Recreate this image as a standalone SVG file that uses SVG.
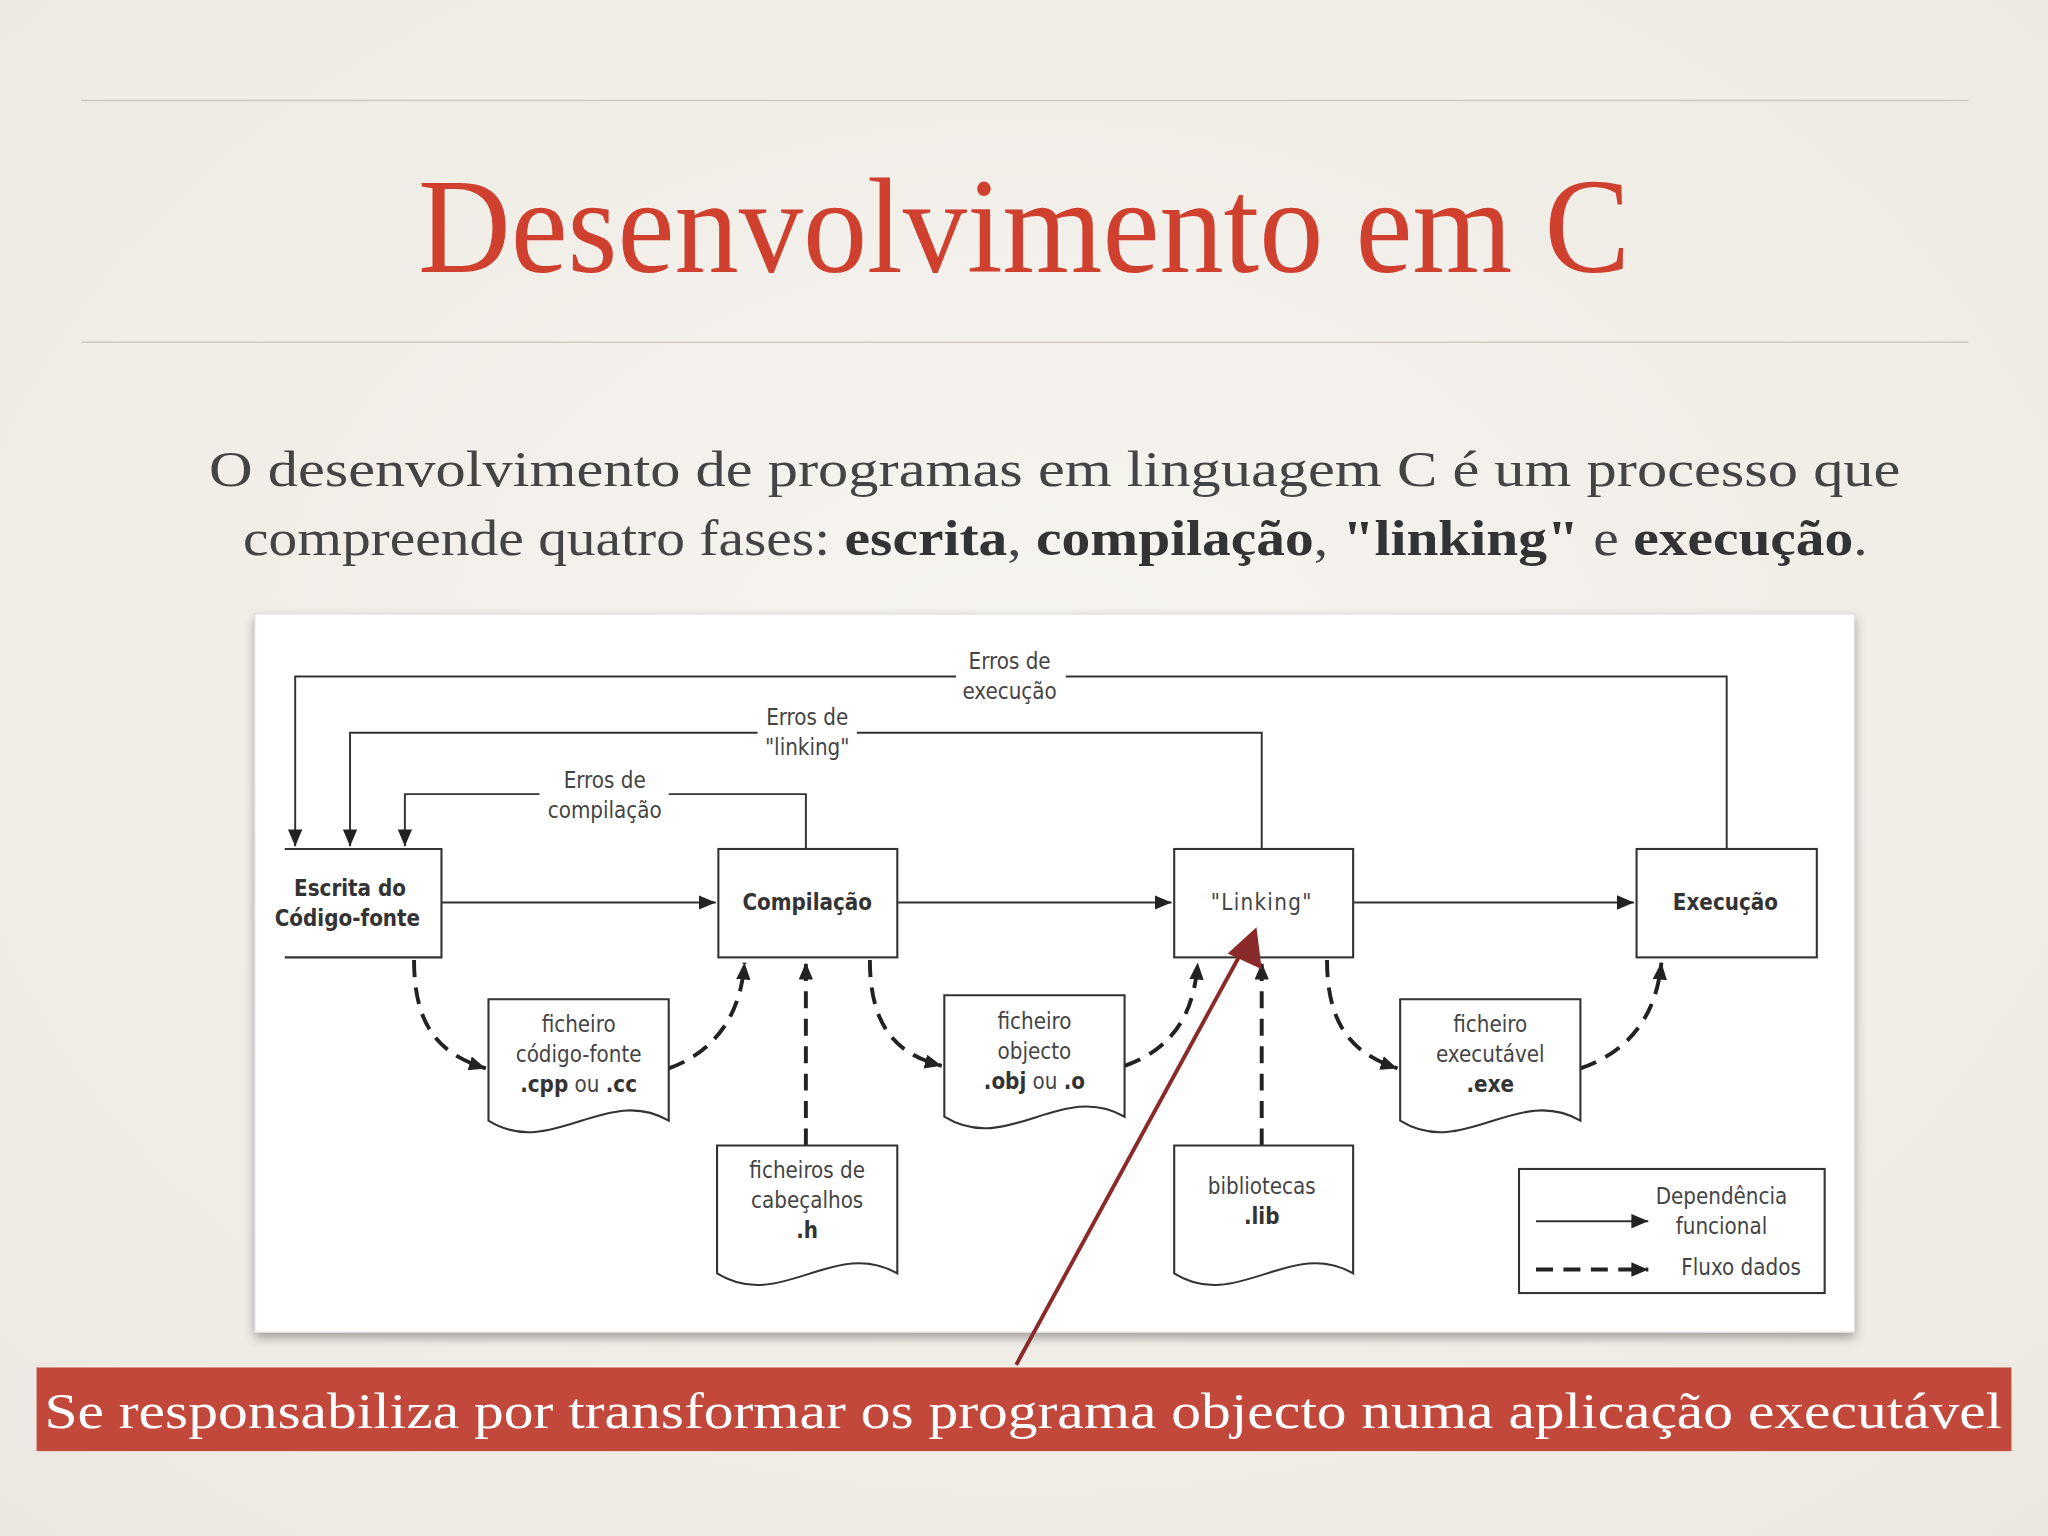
<svg xmlns="http://www.w3.org/2000/svg" width="2048" height="1536" viewBox="0 0 2048 1536">
<defs>
<radialGradient id="bg" cx="0.5" cy="0.45" r="0.75">
<stop offset="0" stop-color="#f7f5f1"/><stop offset="1" stop-color="#ece8e1"/>
</radialGradient>
<marker id="ah" viewBox="0 0 10 10" refX="10" refY="5" markerWidth="6" markerHeight="6" orient="auto" markerUnits="userSpaceOnUse">
<path d="M0,0 L10,5 L0,10 z" fill="#222"/>
</marker>
<marker id="ahs" viewBox="0 0 10 10" refX="10" refY="5" markerWidth="13" markerHeight="11" orient="auto" markerUnits="userSpaceOnUse" preserveAspectRatio="none">
<path d="M0,0 L10,5 L0,10 z" fill="#222"/>
</marker>
<filter id="sh" x="-5%" y="-5%" width="110%" height="115%">
<feDropShadow dx="0" dy="4" stdDeviation="4" flood-color="#000" flood-opacity="0.35"/>
</filter>
<style>
.rule{stroke:#cfcac2;stroke-width:1.2}
.box{fill:#fff;stroke:#333;stroke-width:1.6}
.ln{fill:none;stroke:#333;stroke-width:1.5}
.da{fill:none;stroke:#222;stroke-width:3;stroke-dasharray:13 8}
.t{font-family:"DejaVu Sans Condensed","DejaVu Sans",sans-serif;font-size:17px;fill:#444;text-anchor:middle}
.b{font-weight:bold;fill:#333}
.ser{font-family:"Liberation Serif",serif}
</style>
</defs>
<rect width="2048" height="1536" fill="url(#bg)"/>
<g transform="scale(1.30612)">
<line class="rule" x1="62" y1="77" x2="1507" y2="77"/>
<line class="rule" x1="62" y1="262" x2="1507" y2="262"/>
<text class="ser" x="784" y="208" font-size="104" fill="#d0402e" text-anchor="middle" textLength="928" lengthAdjust="spacingAndGlyphs">Desenvolvimento em C</text>
<text class="ser" x="160" y="372" font-size="39" fill="#444" textLength="1295" lengthAdjust="spacingAndGlyphs">O desenvolvimento de programas em linguagem C  é um processo que</text>
<text class="ser" x="186" y="425" font-size="39" fill="#444" textLength="1244" lengthAdjust="spacingAndGlyphs">compreende quatro fases: <tspan font-weight="bold" fill="#333">escrita</tspan>, <tspan font-weight="bold" fill="#333">compilação</tspan>, <tspan font-weight="bold" fill="#333">"linking"</tspan> e <tspan font-weight="bold" fill="#333">execução</tspan>.</text>

<rect x="195" y="470" width="1225" height="550" fill="#fff" filter="url(#sh)"/>
<rect x="195" y="470" width="1225" height="550" fill="none" stroke="#ddd" stroke-width="1"/>

<g id="connectors">
<path class="ln" d="M1322,650 V518 H816 M732,518 H226 V648" marker-end="url(#ahs)"/>
<path class="ln" d="M966,650 V561 H656 M580,561 H268 V648" marker-end="url(#ahs)"/>
<path class="ln" d="M617,650 V608 H512 M413,608 H310 V648" marker-end="url(#ahs)"/>
<path class="ln" d="M338,691 H548" marker-end="url(#ahs)"/>
<path class="ln" d="M687,691 H897" marker-end="url(#ahs)"/>
<path class="ln" d="M1036,691 H1251" marker-end="url(#ahs)"/>
<path class="da" d="M317,735 C317,790 340,808 372,818" marker-end="url(#ahs)"/>
<path class="da" d="M512,818 C545,806 567,780 570,737" marker-end="url(#ahs)"/>
<path class="da" d="M617,877 V737" marker-end="url(#ahs)"/>
<path class="da" d="M666,735 C666,790 690,808 721,816" marker-end="url(#ahs)"/>
<path class="da" d="M861,816 C895,804 914,780 917,737" marker-end="url(#ahs)"/>
<path class="da" d="M966,877 V737" marker-end="url(#ahs)"/>
<path class="da" d="M1016,735 C1016,790 1040,808 1070,818" marker-end="url(#ahs)"/>
<path class="da" d="M1210,818 C1245,806 1268,780 1272,737" marker-end="url(#ahs)"/>
</g>
<text class="t"><tspan x="773" y="512">Erros de</tspan><tspan x="773" y="535">execução</tspan></text>
<text class="t"><tspan x="618" y="555">Erros de</tspan><tspan x="618" y="578">"linking"</tspan></text>
<text class="t"><tspan x="463" y="603">Erros de</tspan><tspan x="463" y="626">compilação</tspan></text>

<g id="escrita">
<path d="M218,650 H338 V733 H218" fill="#fff" stroke="#333" stroke-width="1.6"/>
<text class="t b"><tspan x="268" y="686">Escrita do</tspan><tspan x="266" y="709">Código-fonte</tspan></text>
</g>
<g id="compilacao"><rect class="box" x="550" y="650" width="137" height="83"/><text class="t b" x="618" y="697">Compilação</text></g>
<g id="linking"><rect class="box" x="899" y="650" width="137" height="83"/><text class="t" x="966" y="697" letter-spacing="1">"Linking"</text></g>
<g id="execucao"><rect class="box" x="1253" y="650" width="138" height="83"/><text class="t b" x="1321" y="697">Execução</text></g>

<g id="doc-fonte"><path class="box" d="M374,765 H512 V858 C464,830 422,888 374,858 Z"/>
<text class="t"><tspan x="443" y="790">ficheiro</tspan><tspan x="443" y="813">código-fonte</tspan><tspan x="443" y="836"><tspan class="b">.cpp</tspan> ou <tspan class="b">.cc</tspan></tspan></text></g>
<g id="doc-objecto"><path class="box" d="M723,762 H861 V855 C813,827 771,885 723,855 Z"/>
<text class="t"><tspan x="792" y="788">ficheiro</tspan><tspan x="792" y="811">objecto</tspan><tspan x="792" y="834"><tspan class="b">.obj</tspan> ou <tspan class="b">.o</tspan></tspan></text></g>
<g id="doc-headers"><path class="box" d="M549,877 H687 V975 C639,947 597,1005 549,975 Z"/>
<text class="t"><tspan x="618" y="902">ficheiros de</tspan><tspan x="618" y="925">cabeçalhos</tspan><tspan class="b" x="618" y="948">.h</tspan></text></g>
<g id="doc-lib"><path class="box" d="M899,877 H1036 V975 C989,947 946,1005 899,975 Z"/>
<text class="t"><tspan x="966" y="914">bibliotecas</tspan><tspan class="b" x="966" y="937">.lib</tspan></text></g>
<g id="doc-exe"><path class="box" d="M1072,765 H1210 V858 C1162,830 1120,888 1072,858 Z"/>
<text class="t"><tspan x="1141" y="790">ficheiro</tspan><tspan x="1141" y="813">executável</tspan><tspan class="b" x="1141" y="836">.exe</tspan></text></g>

<g id="legend">
<rect class="box" x="1163" y="895" width="234" height="95"/>
<line class="ln" x1="1176" y1="935" x2="1262" y2="935" marker-end="url(#ahs)"/>
<line class="da" x1="1176" y1="972" x2="1262" y2="972" marker-end="url(#ahs)"/>
<text class="t"><tspan x="1318" y="922">Dependência</tspan><tspan x="1318" y="945">funcional</tspan><tspan x="1333" y="976">Fluxo dados</tspan></text>
</g>

<g id="banner">
<rect x="28" y="1047" width="1512" height="64" fill="#c2483c"/>
<text class="ser" x="34" y="1093" font-size="39" fill="#fff" textLength="1499" lengthAdjust="spacingAndGlyphs">Se responsabiliza por transformar os programa objecto numa aplicação executável</text>
</g>
<g id="pointer">
<line x1="778" y1="1045" x2="950" y2="730" stroke="#8b2a2a" stroke-width="3"/>
<path d="M962,710 L966,742 L940,730 Z" fill="#8b2a2a"/>
</g>
</g>
</svg>
